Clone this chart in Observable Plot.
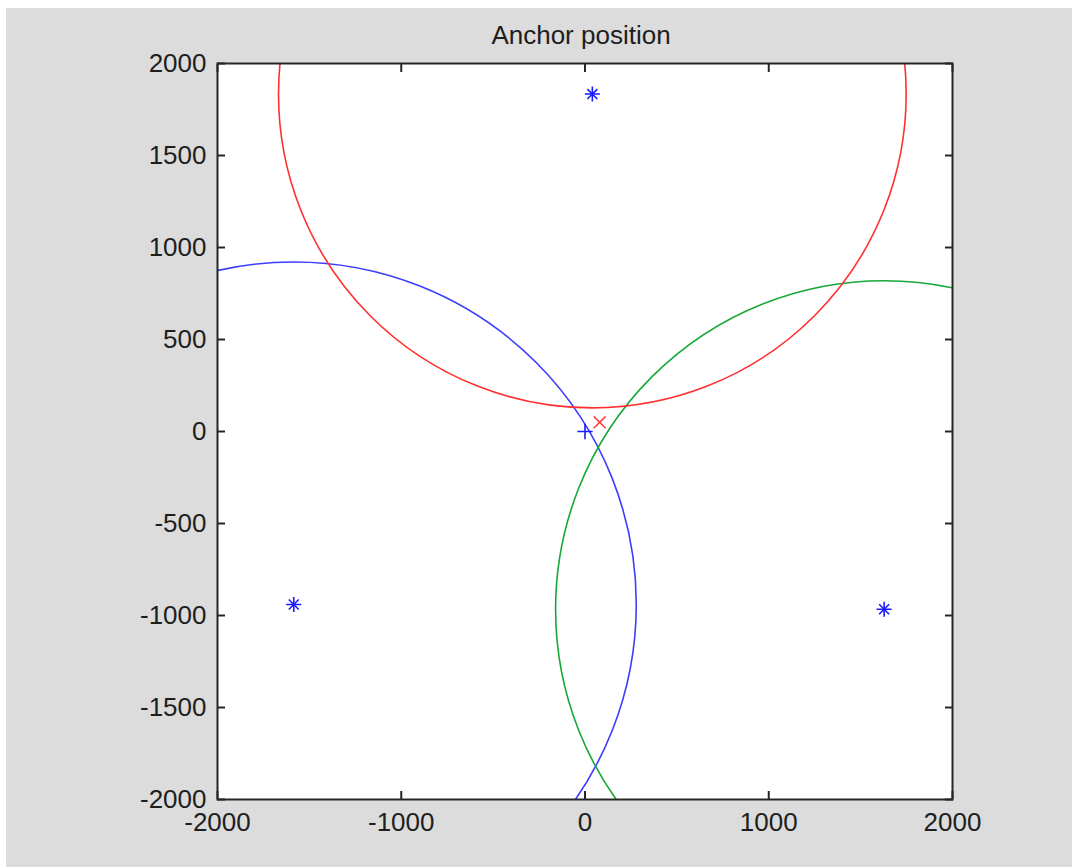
<!DOCTYPE html>
<html>
<head>
<meta charset="utf-8">
<script src="https://cdn.jsdelivr.net/npm/d3@7"></script>
<script src="https://cdn.jsdelivr.net/npm/@observablehq/plot@0.6"></script>
<style>
  html, body { margin: 0; padding: 0; background: #ffffff; }
  #wrap { position: relative; width: 1072px; height: 867px; overflow: hidden; }
  #bg { position: absolute; left: 6px; top: 8px; right: 0; bottom: 0; background: #dcdcdc; }
  #chart { position: absolute; left: 0; top: 0; }
  #title { position: absolute; left: 0; width: 1162px; top: 22px; text-align: center;
           font-family: "Liberation Sans", Arial, sans-serif; font-size: 26px; line-height: 26px; color: #1e1e1e; }
</style>
</head>
<body>
<div id="wrap">
  <div id="bg"></div>
  <div id="chart"></div>
  <div id="title">Anchor position</div>
</div>
<script>
// Anchor positions (blue asterisks)
const anchorX = [40, -1585, 1628];
const anchorY = [1834, -940, -966];
// Range circles around each anchor
const circleRadius = [1708, 1864, 1788];
const circleColor = ["#ff3030", "#3c3cff", "#18a838"];
// True position (blue plus) and estimate (red x)
const trueX = [0], trueY = [0];
const estX = [80], estY = [50];
// Axis ticks
const xTicks = [-2000, -1000, 0, 1000, 2000];
const yTicks = [-2000, -1500, -1000, -500, 0, 500, 1000, 1500, 2000];

const circles = anchorX.map((x, i) => ({x, y: anchorY[i], r: circleRadius[i], c: circleColor[i]}));
const anchors = anchorX.map((x, i) => ({x, y: anchorY[i]}));
const truePos = trueX.map((x, i) => ({x, y: trueY[i]}));
const estPos = estX.map((x, i) => ({x, y: estY[i]}));

const fmt = d => String(d);
const blank = () => "";
const font = "'Liberation Sans', Arial, sans-serif";

const chart = Plot.plot({
  width: 1072,
  height: 867,
  marginLeft: 217,
  marginRight: 120,
  marginTop: 63,
  marginBottom: 68,
  x: {domain: [-2000, 2000]},
  y: {domain: [-2000, 2000]},
  r: {type: "linear", domain: [0, 4000], range: [0, 735]},
  color: {type: "identity"},
  style: {background: "transparent", fontFamily: font, fontSize: "26px", color: "#1e1e1e", overflow: "visible"},
  marks: [
    Plot.frame({fill: "white", stroke: "none"}),
    Plot.dot(circles, {x: "x", y: "y", r: "r", stroke: "c", fill: "none", strokeWidth: 1.6, clip: true}),
    Plot.dot(anchors, {x: "x", y: "y", symbol: "plus", r: 4.9, stroke: "#1a1aff", strokeWidth: 1.6}),
    Plot.dot(anchors, {x: "x", y: "y", symbol: "times", r: 4.6, stroke: "#1a1aff", strokeWidth: 1.6}),
    Plot.dot(truePos, {x: "x", y: "y", symbol: "plus", r: 5, stroke: "#1a1aff", strokeWidth: 1.6}),
    Plot.dot(estPos, {x: "x", y: "y", symbol: "times", r: 5.5, stroke: "#ff4040", strokeWidth: 1.6}),
    // labels
    Plot.axisX({anchor: "bottom", ticks: xTicks, tickSize: 0, tickPadding: 13, tickFormat: fmt, label: null, fontSize: 26}),
    Plot.axisY({anchor: "left", ticks: yTicks, tickSize: 0, tickPadding: 11, tickFormat: fmt, label: null, fontSize: 26}),
    // inward ticks on all four sides
    Plot.axisX({anchor: "bottom", ticks: xTicks, tickSize: -8, tickFormat: blank, label: null, stroke: "#262626", strokeWidth: 2}),
    Plot.axisX({anchor: "top", ticks: xTicks, tickSize: -8, tickFormat: blank, label: null, stroke: "#262626", strokeWidth: 2}),
    Plot.axisY({anchor: "left", ticks: yTicks, tickSize: -8, tickFormat: blank, label: null, stroke: "#262626", strokeWidth: 2}),
    Plot.axisY({anchor: "right", ticks: yTicks, tickSize: -8, tickFormat: blank, label: null, stroke: "#262626", strokeWidth: 2}),
    Plot.frame({stroke: "#262626", strokeWidth: 2, fill: "none"})
  ]
});
document.getElementById("chart").appendChild(chart);
</script>
</body>
</html>
